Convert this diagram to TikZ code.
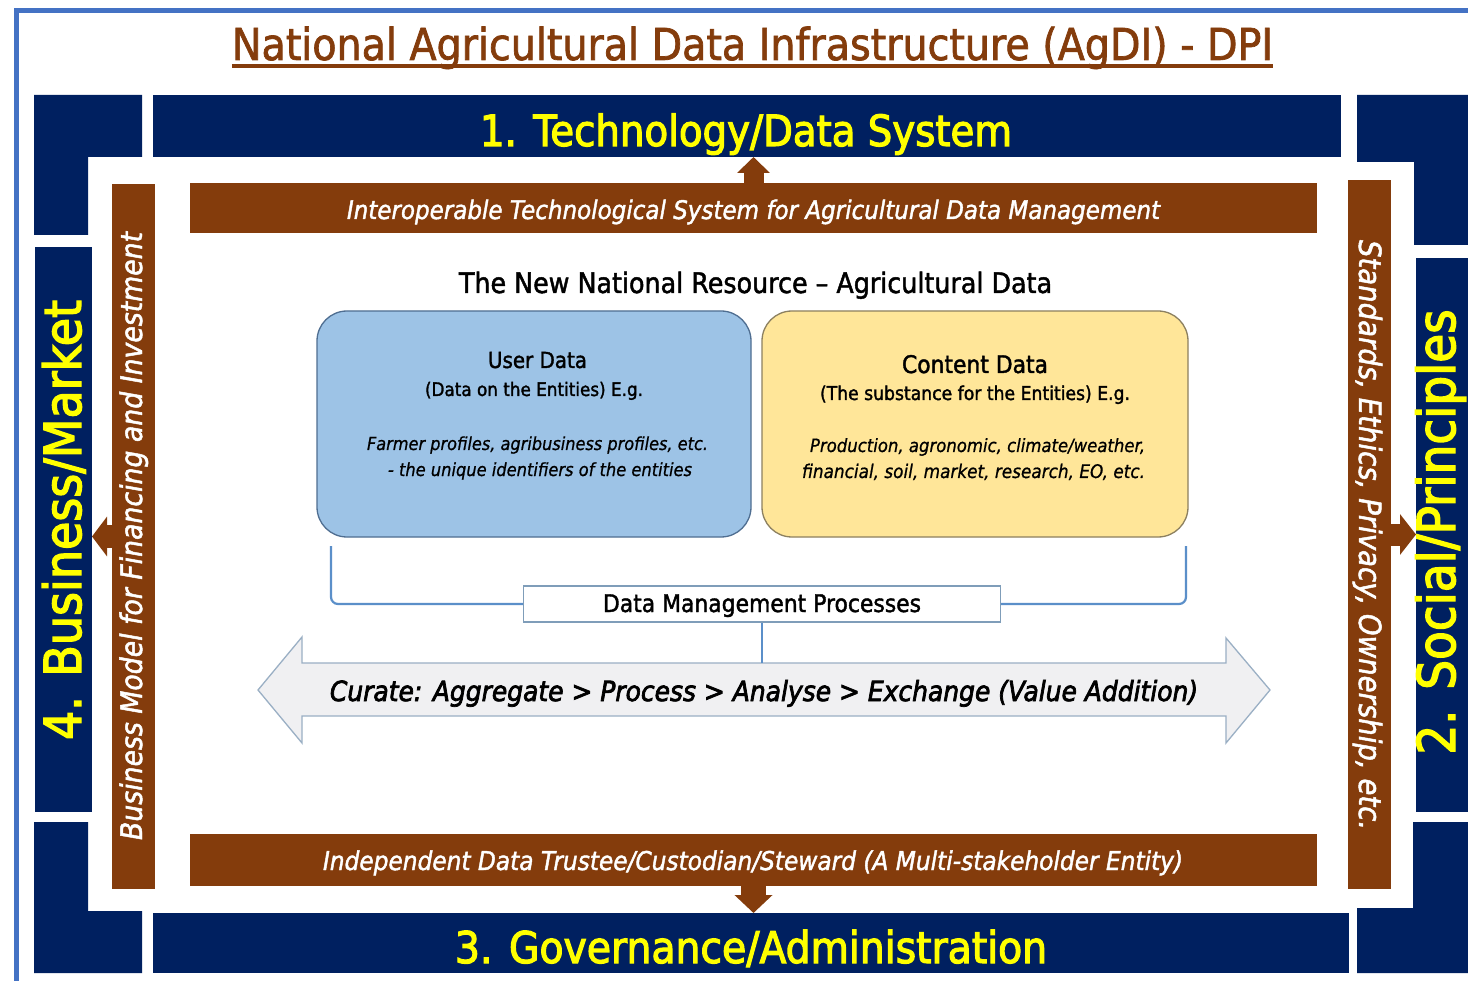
\documentclass[tikz,border=0pt]{standalone}
\usepackage{fontspec}
\usepackage{graphicx}
\setmainfont{DejaVu Sans}[FakeStretch=0.9, FakeBold=0.8]
\newfontfamily\medf{DejaVu Sans}[FakeStretch=0.9, FakeBold=1.6]
\newfontfamily\heavy{DejaVu Sans}[FakeStretch=0.9, FakeBold=2.6]
\usetikzlibrary{arrows.meta,calc}
\definecolor{navyc}{HTML}{002060}
\definecolor{brownc}{HTML}{843C0C}
\definecolor{yel}{HTML}{FFFF00}
\definecolor{framec}{HTML}{4472C4}
\definecolor{ufill}{HTML}{9DC3E6}
\definecolor{udraw}{HTML}{4F6E91}
\definecolor{cfill}{HTML}{FFE699}
\definecolor{cdraw}{HTML}{8C8060}
\definecolor{blinec}{HTML}{5B8FC9}
\definecolor{dmpdraw}{HTML}{7F9DB9}
\definecolor{arrfill}{HTML}{F0F0F2}
\definecolor{arrdraw}{HTML}{9AAFC4}
\newcommand{\fw}[2]{\resizebox{#1}{!}{#2}}
\tikzset{
  navyblk/.style={fill=navyc, draw=none, inner sep=0pt, outer sep=0pt, anchor=north west},
  brownbar/.style={fill=brownc, draw=none, inner sep=0pt, outer sep=0pt, anchor=north west},
  txt/.style={inner sep=0pt, outer sep=0pt, anchor=base},
  ytxt/.style={txt, text=yel},
  wtxt/.style={txt, text=white},
  dbox/.style={rounded corners=30pt, line width=1.3pt, inner sep=0pt, outer sep=0pt, anchor=north west},
  bline/.style={draw=blinec, line width=2.2pt},
}
\begin{document}
\begin{tikzpicture}[x=1pt,y=-1pt]
\path[use as bounding box] (0,0) rectangle (1468,981);
\clip (0,0) rectangle (1468,981);
\fill[white] (0,0) rectangle (1468,981);
% outer frame
\draw[framec, line width=5pt] (16.5,995) -- (16.5,10.5) -- (1480,10.5);

% title
\node[txt, text=brownc] (title) at (752.5,60) {\fw{1041pt}{\medf National Agricultural Data Infrastructure (AgDI) - DPI}};
\draw[brownc, line width=4pt] ([yshift=-6pt]title.base west) -- ([yshift=-6pt]title.base east);

% navy frame pieces
\node[navyblk, minimum width=1188pt, minimum height=62pt] (topbar) at (153,95) {};
\node[navyblk, minimum width=1196pt, minimum height=60pt] (botbar) at (153,913) {};
\node[navyblk, minimum width=57pt, minimum height=565pt] (leftbar) at (35,247) {};
\node[navyblk, minimum width=52pt, minimum height=554pt] (rightbar) at (1416,258) {};
\fill[navyc] (34,95) -- (142,95) -- (142,157) -- (88,157) -- (88,235) -- (34,235) -- cycle;
\fill[navyc] (1357,95) -- (1470,95) -- (1470,245) -- (1414,245) -- (1414,162) -- (1357,162) -- cycle;
\fill[navyc] (1413,822) -- (1470,822) -- (1470,973) -- (1357,973) -- (1357,908) -- (1413,908) -- cycle;
\fill[navyc] (34,822) -- (88,822) -- (88,911) -- (142,911) -- (142,973) -- (34,973) -- cycle;

% navy labels
\node[ytxt] (tech) at (746,146) {\fw{532pt}{\heavy 1. Technology/Data System}};
\node[ytxt] (gov) at (751,963) {\fw{592pt}{\heavy 3. Governance/Administration}};
\node[ytxt, rotate=90] (bus) at (81,520) {\fw{440pt}{\heavy 4. Business/Market}};
\node[ytxt, rotate=90] (soc) at (1455,532) {\fw{445pt}{\heavy 2. Social/Principles}};

% brown bars
\node[brownbar, minimum width=1127pt, minimum height=50pt] (tb) at (190,183) {};
\node[brownbar, minimum width=1127pt, minimum height=52pt] (bb) at (190,834) {};
\node[brownbar, minimum width=43pt, minimum height=705pt] (lb) at (112,184) {};
\node[brownbar, minimum width=43pt, minimum height=709pt] (rb) at (1348,180) {};

\node[wtxt] (tbt) at (753.5,219) {\fw{813pt}{\medf\itshape Interoperable Technological System for Agricultural Data Management}};
\node[wtxt] (bbt) at (753,870) {\fw{860pt}{\medf\itshape Independent Data Trustee/Custodian/Steward (A Multi-stakeholder Entity)}};
\node[wtxt, rotate=90] (lbt) at (142,536) {\fw{608pt}{\medf\itshape Business Model for Financing and Investment}};
\node[wtxt, rotate=-90] (rbt) at (1359,535) {\fw{590pt}{\medf\itshape Standards, Ethics, Privacy, Ownership, etc.}};

% brown block arrows
\draw[brownc, line width=20pt, -{Triangle[width=32pt,length=16pt]}] (tb.north) -- (tb.north |- topbar.south);
\draw[brownc, line width=25pt, -{Triangle[width=37pt,length=18pt]}] (bb.south) -- (bb.south |- botbar.north);
\draw[brownc, line width=23pt, -{Triangle[width=39pt,length=15pt]}] (lb.west) -- (lb.west -| leftbar.east);
\draw[brownc, line width=22pt, -{Triangle[width=40pt,length=16pt]}] (rb.east) -- (rb.east -| rightbar.west);

% central heading
\node[txt] (res) at (755.5,293) {\fw{593pt}{\medf The New National Resource – Agricultural Data}};

% data boxes
\node[dbox, fill=ufill, draw=udraw, minimum width=434pt, minimum height=226pt] (ud) at (317,311) {};
\node[dbox, fill=cfill, draw=cdraw, minimum width=426pt, minimum height=226pt] (cd) at (762,311) {};

\node[txt] (ud1) at (537.5,368) {\fw{99pt}{\medf User Data}};
\node[txt] (ud2) at (534,396) {\fw{218pt}{\medf (Data on the Entities) E.g.}};
\node[txt] (ud3) at (537.5,450) {\fw{341pt}{\itshape Farmer profiles, agribusiness profiles, etc.}};
\node[txt] (ud4) at (540,476) {\fw{304pt}{\itshape - the unique identifiers of the entities}};

\node[txt] (cd1) at (975,373) {\fw{146pt}{\medf Content Data}};
\node[txt] (cd2) at (975,400) {\fw{310pt}{\medf (The substance for the Entities) E.g.}};
\node[txt] (cd3) at (977.5,452) {\fw{335pt}{\itshape Production, agronomic, climate/weather,}};
\node[txt] (cd4) at (973.5,478) {\fw{343pt}{\itshape financial, soil, market, research, EO, etc.}};

% data management processes
\node[draw=dmpdraw, line width=1.3pt, fill=white, minimum width=477pt, minimum height=36pt, inner sep=0pt] (dmp) at (762,604) {};
\node[txt] (dmpt) at (762,612) {\fw{318pt}{\medf Data Management Processes}};
\coordinate (bl) at (331,546);
\coordinate (br) at (1186,546);
\draw[bline, rounded corners=7pt] (bl) |- (dmp.west);
\draw[bline, rounded corners=7pt] (br) |- (dmp.east);

% double arrow
\coordinate (ltip) at (258,690);
\coordinate (rtip) at (1270,690);
\coordinate (atop) at (762,663);
\filldraw[fill=arrfill, draw=arrdraw, line width=1.3pt, line join=miter]
  (ltip) -- (302,637) -- (302,663) -- (1226,663) -- (1226,638) -- (rtip)
  -- (1226,743) -- (1226,716) -- (302,716) -- (302,743) -- cycle;
\draw[bline] (dmp.south) -- (atop);
\node[txt] (cur) at (764,701) {\fw{868pt}{\heavy\itshape Curate: Aggregate > Process > Analyse > Exchange (Value Addition)}};
\end{tikzpicture}
\end{document}
